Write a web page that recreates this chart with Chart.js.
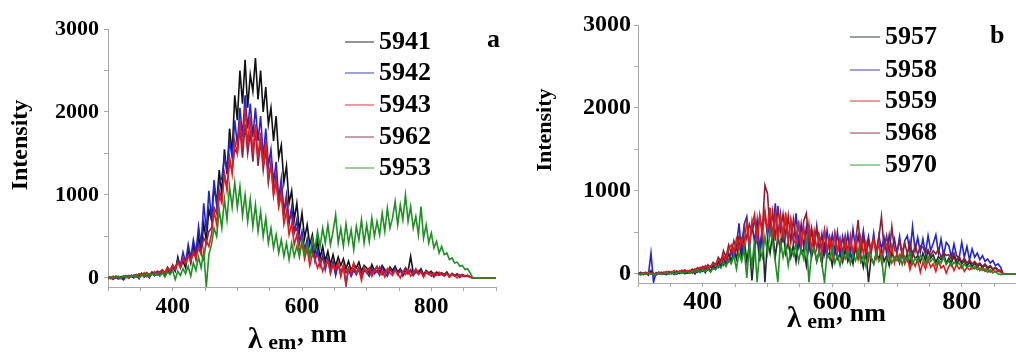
<!DOCTYPE html>
<html>
<head>
<meta charset="utf-8">
<script src="https://cdn.jsdelivr.net/npm/chart.js@4.4.0/dist/chart.umd.min.js"></script>
<style>
  html, body { margin: 0; padding: 0; background: #fff; overflow: hidden; }
  body { width: 1016px; height: 352px; position: relative; }
  .panel { position: absolute; top: 0; height: 352px; }
  #wrapA { left: 0; width: 508px; }
  #wrapB { left: 510px; width: 520px; }
</style>
</head>
<body>
<div class="panel" id="wrapA"><canvas id="chartA" width="508" height="352"></canvas></div>
<div class="panel" id="wrapB"><canvas id="chartB" width="520" height="352"></canvas></div>
<script>
// emission wavelength grid, nm
var wavelengths = [
  300,304,308,312,316,320,324,328,332,336,
  340,344,348,352,356,360,364,368,372,376,
  380,384,388,392,396,400,404,408,412,416,
  420,424,428,432,436,440,444,448,452,456,
  460,464,468,472,476,480,484,488,492,496,
  500,504,508,512,516,520,524,528,532,536,
  540,544,548,552,556,560,564,568,572,576,
  580,584,588,592,596,600,604,608,612,616,
  620,624,628,632,636,640,644,648,652,656,
  660,664,668,672,676,680,684,688,692,696,
  700,704,708,712,716,720,724,728,732,736,
  740,744,748,752,756,760,764,768,772,776,
  780,784,788,792,796,800,804,808,812,816,
  820,824,828,832,836,840,844,848,852,856,
  860,864,900
];

var xTicks = [300,350,400,450,500,550,600,650,700,750,800,850,900];
var xTickLabels = [400, 600, 800];
var yTicks = [0,500,1000,1500,2000,2500,3000];
var yTickLabels = [0, 1000, 2000, 3000];

// ---- panel a ----
var labelsA = ['5941', '5942', '5943', '5962', '5953'];

var s5941 = [
  0,10,-5,20,5,15,-10,25,10,30,
  15,40,20,55,10,45,30,70,35,60,
  50,90,40,110,70,130,80,250,120,200,
  120,320,180,400,230,500,330,650,450,820,
  700,1100,900,1300,1000,1550,1250,1800,1500,2200,
  1900,2500,2100,2630,2050,2450,2250,2650,2150,2500,
  2000,2300,1850,2050,1650,1950,1450,1600,1150,1350,
  900,1050,700,900,560,780,480,640,400,520,
  300,450,240,380,200,320,160,280,140,250,
  150,230,110,200,90,170,120,190,80,150,
  120,60,160,90,130,70,150,100,60,130,
  90,140,70,110,50,120,80,260,60,100,
  70,110,40,90,60,80,30,70,50,60,
  40,70,20,55,30,50,10,40,20,30,
  15,0,0
];
var s5942 = [
  -10,5,-20,10,-15,0,-25,15,-5,20,
  0,30,-10,45,15,35,0,60,25,50,
  40,75,30,100,60,140,90,220,150,310,
  180,400,240,460,300,620,400,900,560,1050,
  700,1180,880,1150,1200,1450,1300,1650,1450,1900,
  1600,2050,1700,2200,1800,2100,1700,2050,1650,1950,
  1450,1800,1350,1550,1150,1400,950,1200,800,1000,
  650,850,550,700,420,560,330,470,250,380,
  200,340,140,280,100,240,60,200,30,170,
  30,140,-80,110,20,90,40,120,10,80,
  70,20,110,50,90,30,130,60,20,100,
  60,120,40,90,20,80,50,100,30,70,
  50,90,20,70,40,60,10,50,30,45,
  30,60,10,45,20,40,5,35,15,25,
  10,0,0
];
var s5943 = [
  5,-10,15,0,20,-5,10,25,0,30,
  20,10,45,25,60,15,50,40,75,30,
  60,95,50,120,80,150,100,180,130,220,
  170,260,200,300,240,360,280,220,450,380,
  520,800,650,1000,900,1250,1050,1450,1250,1650,
  1500,1900,1550,2050,1600,1950,1500,1850,1450,1750,
  1350,1650,1200,1350,1000,1150,850,1000,650,800,
  520,650,400,520,300,420,230,350,150,280,
  230,120,200,80,170,210,60,150,100,190,
  20,160,-80,120,70,180,40,100,-30,130,
  60,110,20,90,140,40,80,10,110,60,
  30,90,50,0,80,40,100,20,60,110,
  40,70,10,80,50,20,60,30,70,40,
  20,50,10,45,25,0,40,15,30,20,
  10,0,0
];
var s5962 = [
  10,0,20,-5,15,5,25,10,30,15,
  35,20,50,30,40,65,35,55,45,80,
  70,100,60,130,90,160,110,200,150,240,
  190,280,230,330,270,400,320,480,420,560,
  600,850,780,1050,950,1250,1100,1400,1300,1550,
  1500,1800,1450,1850,1500,1750,1400,1800,1350,1650,
  1300,1550,1150,1400,1000,1250,900,1100,750,950,
  700,750,550,600,450,480,350,390,280,320,
  240,280,180,230,150,200,120,170,90,150,
  80,140,60,120,40,110,70,130,50,100,
  80,120,50,100,70,130,40,90,60,110,
  70,100,40,90,60,120,50,80,30,90,
  60,80,30,70,50,60,20,55,35,50,
  35,55,20,45,25,40,15,35,20,30,
  10,0,0
];
var s5953 = [
  0,15,-5,20,10,-10,25,5,15,30,
  10,35,0,40,20,50,15,45,30,55,
  20,60,10,70,40,90,-20,80,30,110,
  50,140,20,180,90,250,120,330,-110,280,
  400,600,500,820,600,950,700,1100,850,1150,
  850,1100,750,1000,680,950,620,880,560,800,
  500,720,420,600,360,520,300,460,260,420,
  220,420,260,380,250,450,280,400,240,470,
  350,560,380,600,420,640,400,560,760,420,
  600,380,650,420,580,340,620,460,700,420,
  640,440,720,500,680,520,780,560,840,600,
  720,920,640,880,700,1000,680,860,600,740,
  520,860,480,640,420,540,360,440,300,380,
  280,300,220,240,180,190,140,150,100,110,
  60,0,0
];

// ---- panel b ----
var labelsB = ['5957', '5958', '5959', '5968', '5970'];

var s5957 = [
  0,10,-10,15,5,40,-20,10,0,20,
  -5,15,0,25,-10,20,5,30,0,15,
  10,35,0,45,20,60,15,80,30,100,
  60,150,90,200,120,250,150,300,180,380,
  200,420,150,350,-80,300,450,150,550,-100,
  400,250,500,200,450,300,520,250,380,200,
  350,150,420,250,300,100,380,200,320,150,
  280,120,350,200,260,100,300,180,240,140,
  300,150,260,120,330,180,220,80,280,-100,
  200,120,250,180,300,150,220,100,260,160,
  230,130,280,170,240,120,260,180,220,140,
  250,160,280,190,230,140,210,170,240,130,
  190,130,220,110,180,120,160,100,140,90,
  130,80,120,70,110,60,90,50,70,40,
  30,0,0
];
var s5958 = [
  -10,20,0,10,-15,250,-100,15,5,-5,
  10,-10,20,0,15,-5,30,10,20,5,
  25,10,40,20,55,30,70,45,90,60,
  120,80,170,110,220,150,280,200,330,610,
  250,600,690,300,620,380,650,300,560,720,
  450,680,420,850,450,720,380,680,420,640,
  380,730,350,600,320,560,300,520,330,580,
  280,480,250,520,300,470,260,500,230,450,
  280,480,240,540,300,460,260,520,290,450,
  260,490,230,460,300,440,240,470,280,420,
  250,450,220,400,460,240,570,280,440,260,
  420,240,460,280,370,470,250,420,220,380,
  340,200,360,220,190,380,200,330,170,300,
  200,250,170,220,150,180,130,160,100,120,
  80,0,0
];
var s5959 = [
  5,-10,15,0,20,-5,10,-15,25,0,
  15,30,0,20,40,10,35,20,50,30,
  45,20,60,35,80,50,100,70,90,120,
  100,180,130,220,160,300,350,240,420,300,
  420,300,650,350,600,720,380,700,450,760,
  520,800,430,720,400,680,450,740,380,650,
  420,350,640,300,560,320,600,280,520,300,
  460,230,520,280,440,220,480,250,420,200,
  400,220,460,240,420,190,440,250,380,170,
  340,420,200,380,150,330,360,180,330,130,
  250,150,280,120,200,50,160,90,180,20,
  140,60,170,80,120,30,150,70,100,10,
  90,130,40,110,60,100,30,80,50,70,
  60,90,40,70,30,55,20,45,25,35,
  20,0,0
];
var s5968 = [
  0,10,-5,20,0,15,5,-10,15,10,
  20,5,30,15,0,35,20,45,25,40,
  30,60,40,75,50,90,65,110,80,140,
  110,200,150,280,200,350,250,400,300,450,
  380,550,420,600,500,650,450,700,520,1070,
  970,480,750,400,820,520,720,450,700,380,
  660,420,600,350,640,730,400,560,330,540,
  460,300,520,250,440,300,490,270,420,250,
  460,280,420,230,390,650,260,440,230,390,
  260,420,280,440,690,300,460,250,570,290,
  260,400,220,370,240,390,210,350,230,340,
  320,250,290,220,280,240,300,200,260,220,
  230,180,250,160,210,140,190,130,170,120,
  150,110,130,90,120,80,100,60,80,50,
  40,0,0
];
var s5970 = [
  0,-10,5,-5,10,0,-15,5,10,-5,
  5,15,-5,20,0,10,25,5,15,30,
  10,35,20,45,15,50,30,60,20,70,
  50,100,70,140,90,170,120,220,60,250,
  150,300,-50,350,100,400,-100,300,200,450,
  250,520,380,150,-100,400,200,350,100,300,
  220,350,150,300,180,400,-100,250,320,150,
  280,120,-100,250,180,300,130,230,100,260,
  180,280,120,230,160,300,140,220,90,250,
  200,120,260,150,220,-100,180,240,130,200,
  160,230,110,210,150,260,120,190,140,220,
  180,120,210,150,190,100,170,130,200,110,
  160,90,140,110,130,70,120,80,100,60,
  90,50,70,40,60,20,50,10,30,0,
  -10,0,0
];

var FONT = '"Liberation Serif", "Times New Roman", serif';

function toPoints(vals) {
  return vals.map(function(v, i) { return { x: wavelengths[i], y: v }; });
}

function decorPlugin(o) {
  return {
    id: 'decor',
    afterDraw: function(chart) {
      var ctx = chart.ctx;
      ctx.save();
      ctx.fillStyle = '#000';
      // legend
      ctx.font = 'bold 26px ' + FONT;
      ctx.textBaseline = 'middle';
      ctx.textAlign = 'left';
      chart.data.datasets.forEach(function(ds, i) {
        var y = o.legendY[i];
        ctx.strokeStyle = ds.borderColor;
        ctx.globalAlpha = 0.6;
        ctx.lineWidth = 1.5;
        ctx.beginPath();
        ctx.moveTo(o.legendX[0], y);
        ctx.lineTo(o.legendX[1], y);
        ctx.stroke();
        ctx.globalAlpha = 1;
        ctx.fillText(ds.label, o.legendX[2], y);
      });
      // panel letter
      ctx.fillText(o.letter, o.letterPos[0], o.letterPos[1]);
      // y title
      ctx.save();
      ctx.translate(o.yTitle[0], o.yTitle[1]);
      ctx.rotate(-Math.PI / 2);
      ctx.textAlign = 'center';
      ctx.font = 'bold ' + o.yTitle[2] + 'px ' + FONT;
      ctx.fillText('Intensity', 0, 0);
      ctx.restore();
      // x title: λ em, nm
      ctx.textBaseline = 'alphabetic';
      var x = o.xTitle[0], base = o.xTitle[1];
      var parts = [['λ', 29, 0, 6], ['em', 22, 1, 1], [',', 26, -6, 7], ['nm', 26, -6, 0]];
      parts.forEach(function(p) {
        ctx.font = 'bold ' + p[1] + 'px ' + FONT;
        ctx.fillText(p[0], x, base + p[2]);
        x += ctx.measureText(p[0]).width + p[3];
      });
      ctx.restore();
    }
  };
}

function makePanel(id, labels, series, colors, orders, g) {
  var datasets = series.map(function(vals, i) {
    return {
      label: labels[i],
      data: toPoints(vals),
      borderColor: colors[i],
      borderWidth: 1.6,
      pointRadius: 0,
      tension: 0,
      fill: false,
      order: orders[i]
    };
  });
  return new Chart(document.getElementById(id), {
    type: 'line',
    data: { datasets: datasets },
    options: {
      responsive: false,
      animation: false,
      events: [],
      layout: { padding: { top: g.top, right: g.right, left: 0, bottom: 0 } },
      plugins: { legend: { display: false }, tooltip: { enabled: false } },
      scales: {
        x: {
          type: 'linear',
          min: 300,
          max: 900,
          afterBuildTicks: function(s) { s.ticks = xTicks.map(function(v) { return { value: v }; }); },
          afterFit: function(s) { s.height = g.xHeight; },
          grid: { drawOnChartArea: false, drawTicks: true, tickLength: 4, color: '#a8a8a8' },
          border: { display: true, color: '#a8a8a8', width: 1 },
          ticks: {
            autoSkip: false,
            maxRotation: 0,
            padding: g.xPad,
            color: '#000',
            font: { family: FONT, weight: 'bold', size: g.xFont },
            callback: function(v) { return xTickLabels.indexOf(v) >= 0 ? String(v) : ''; }
          }
        },
        y: {
          min: -110,
          max: 3000,
          afterBuildTicks: function(s) { s.ticks = yTicks.map(function(v) { return { value: v }; }); },
          afterFit: function(s) { s.width = g.yWidth; },
          grid: { drawOnChartArea: false, drawTicks: true, tickLength: 4, color: '#a8a8a8' },
          border: { display: true, color: '#a8a8a8', width: 1 },
          ticks: {
            padding: g.yPad,
            color: '#000',
            font: { family: FONT, weight: 'bold', size: g.yFont },
            callback: function(v) { return yTickLabels.indexOf(v) >= 0 ? String(v) : ''; }
          }
        }
      }
    },
    plugins: [decorPlugin(g.decor)]
  });
}

makePanel('chartA', labelsA, [s5941, s5942, s5943, s5962, s5953],
  ['#111111', '#2424cc', '#e01c1c', '#882255', '#1f8f24'],
  [4, 3, 1, 2, 0],
  {
    top: 29, right: 12, xHeight: 65, yWidth: 108, xPad: 2, yPad: 5, xFont: 23, yFont: 22,
    decor: {
      legendX: [345, 374, 379], legendY: [42, 73, 105, 137, 168],
      letter: 'a', letterPos: [487, 40],
      yTitle: [21, 145, 24],
      xTitle: [248, 348]
    }
  });

makePanel('chartB', labelsB, [s5957, s5958, s5959, s5968, s5970],
  ['#1c2a2a', '#2424cc', '#e01c1c', '#882233', '#1f8f24'],
  [4, 3, 1, 2, 0],
  {
    top: 25, right: 3.5, xHeight: 69, yWidth: 128, xPad: 0, yPad: 3, xFont: 26, yFont: 24,
    decor: {
      legendX: [340, 370, 375], legendY: [37, 70, 101, 133, 165],
      letter: 'b', letterPos: [480, 36],
      yTitle: [35, 130, 22],
      xTitle: [277, 327]
    }
  });
</script>
</body>
</html>
